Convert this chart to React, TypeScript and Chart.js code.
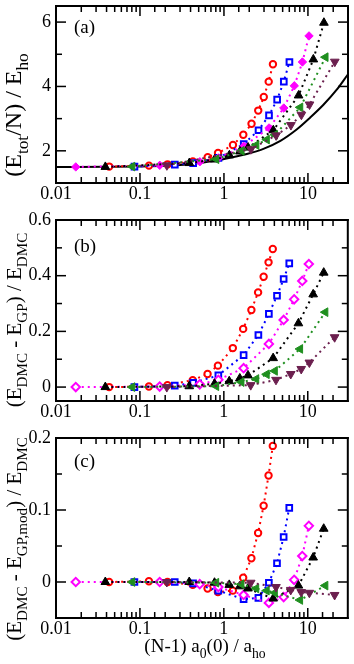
import React, { useEffect, useRef } from 'react';
import { Chart, registerables } from 'chart.js';

Chart.register(...registerables);

// ---------- DATA ----------
// x = (N-1) a0(0) / a_ho for each series
const redX = [0.043, 0.128, 0.213, 0.426, 0.64, 0.85, 1.28, 1.7, 2.13, 2.56, 2.98, 3.41, 3.83];
const blueX = [0.086, 0.26, 0.43, 0.86, 1.72, 2.58, 3.44, 4.3, 5.16, 6.02];
const magentaX = [0.0172, 0.172, 0.516, 0.86, 1.72, 3.44, 5.16, 6.88, 8.6, 10.3];
const blackX = [0.0387, 0.387, 0.774, 1.16, 1.55, 1.94, 3.87, 7.74, 11.6, 15.5];
const greenX = [0.081, 0.81, 1.62, 2.43, 3.24, 4.05, 8.1, 16.2];
const maroonX = [0.209, 2.09, 4.18, 6.27, 8.36, 10.45, 20.9];

// panel (a): (E_tot/N) / E_ho
const redA = [1.51, 1.54, 1.58, 1.67, 1.8, 1.93, 2.18, 2.5, 2.84, 3.25, 3.67, 4.15, 4.69];
const blueA = [1.51, 1.57, 1.62, 1.78, 2.21, 2.64, 3.1, 3.59, 4.15, 4.76];
const magentaA = [1.5, 1.55, 1.66, 1.78, 2.14, 2.71, 3.33, 4.02, 4.76, 5.57];
const blackA = [1.5, 1.62, 1.73, 1.86, 1.98, 2.1, 2.64, 3.72, 4.84, 5.98];
const greenA = [1.51, 1.74, 2.0, 2.18, 2.35, 2.5, 3.35, 4.91];
const maroonA = [1.55, 2.05, 2.48, 2.8, 3.12, 3.44, 4.77];
const curveX = [0.01, 0.1, 0.3, 0.5, 0.78, 1.22, 1.92, 3.0, 4.7, 7.4, 10.6, 15.3, 21.9, 30];
const curveA = [1.5, 1.51, 1.56, 1.62, 1.69, 1.79, 1.91, 2.07, 2.31, 2.67, 3.03, 3.43, 3.89, 4.38];

// panel (b): (E_DMC - E_GP) / E_DMC
const redB = [0, 0.002, 0.007, 0.025, 0.047, 0.077, 0.14, 0.209, 0.277, 0.34, 0.396, 0.448, 0.496];
const blueB = [0, 0.005, 0.015, 0.042, 0.115, 0.187, 0.263, 0.328, 0.388, 0.444];
const magentaB = [0, 0.002, 0.01, 0.026, 0.068, 0.155, 0.241, 0.315, 0.381, 0.442];
const blackB = [0, 0.003, 0.012, 0.021, 0.031, 0.042, 0.104, 0.229, 0.333, 0.411];
const greenB = [0, 0.003, 0.018, 0.029, 0.046, 0.058, 0.137, 0.269];
const maroonB = [0, 0.007, 0.026, 0.047, 0.065, 0.088, 0.179];

// panel (c): (E_DMC - E_GP,mod) / E_DMC
const redC = [0, 0.001, 0, -0.004, -0.009, -0.014, -0.012, 0.006, 0.033, 0.068, 0.106, 0.148, 0.189];
const blueC = [0, 0, -0.002, -0.012, -0.024, -0.022, -0.001, 0.026, 0.0625, 0.103];
const magentaC = [0, 0, -0.003, -0.007, -0.018, -0.029, -0.021, 0.003, 0.036, 0.078];
const blackC = [0, 0, -0.001, -0.004, -0.006, -0.009, -0.023, -0.005, 0.034, 0.074];
const greenC = [0, -0.001, -0.003, -0.009, -0.012, -0.015, -0.025, -0.005];
const maroonC = [0, -0.001, -0.007, -0.011, -0.014, -0.015, -0.018];

// ticks
const xTickValues = [0.01, 0.1, 1, 10];
const xTickLabels = ['0.01', '0.1', '1', '10'];
const yTickPosA = [1, 2, 3, 4, 5, 6];
const yTicksA = [2, 4, 6];
const yLabelsA = ['2', '4', '6'];
const yTickPosB = [0, 0.1, 0.2, 0.3, 0.4, 0.5, 0.6];
const yTicksB = [0, 0.2, 0.4, 0.6];
const yLabelsB = ['0', '0.2', '0.4', '0.6'];
const yTickPosC = [-0.05, 0, 0.05, 0.1, 0.15, 0.2];
const yTicksC = [0, 0.1, 0.2];
const yLabelsC = ['0', '0.1', '0.2'];

// ---------- STYLE ----------
const FONT = '"Liberation Serif", "Times New Roman", serif';
Chart.defaults.font.family = FONT;
Chart.defaults.color = '#000';

type Seg = { t: string; sub?: boolean };
const titleA: Seg[] = [{ t: '(E' }, { t: 'tot', sub: true }, { t: '/N) / E' }, { t: 'ho', sub: true }];
const titleB: Seg[] = [{ t: '(E' }, { t: 'DMC', sub: true }, { t: ' - E' }, { t: 'GP', sub: true }, { t: ') / E' }, { t: 'DMC', sub: true }];
const titleC: Seg[] = [{ t: '(E' }, { t: 'DMC', sub: true }, { t: ' - E' }, { t: 'GP,mod', sub: true }, { t: ') / E' }, { t: 'DMC', sub: true }];
const xTitle: Seg[] = [{ t: '(N-1) a' }, { t: '0', sub: true }, { t: '(0) / a' }, { t: 'ho', sub: true }];

const seriesStyle = [
  { color: '#ff0000', style: 'circle', radius: 3.2, open: true, rot: 0 },
  { color: '#0000ff', style: 'rect', radius: 4, open: true, rot: 0 },
  { color: '#ff00ff', style: 'rectRot', radius: 4.2, open: true, rot: 0 },
  { color: '#000000', style: 'triangle', radius: 5, open: false, rot: 0 },
  { color: '#1f8f1f', style: 'triangle', radius: 5, open: false, rot: -90 },
  { color: '#6b1f4e', style: 'triangle', radius: 5, open: false, rot: 180 },
];
const seriesX = [redX, blueX, magentaX, blackX, greenX, maroonX];

function drawRich(ctx: any, segs: Seg[], x: number, y: number, size: number, rotate: boolean) {
  ctx.save();
  ctx.translate(x, y);
  if (rotate) ctx.rotate(-Math.PI / 2);
  const sub = size * 0.72;
  const f = (s: number) => s + 'px ' + FONT;
  let total = 0;
  const widths = segs.map((s) => {
    ctx.font = f(s.sub ? sub : size);
    const w = ctx.measureText(s.t).width;
    total += w;
    return w;
  });
  let cx = -total / 2;
  ctx.fillStyle = '#000';
  ctx.textAlign = 'left';
  ctx.textBaseline = 'alphabetic';
  segs.forEach((s, i) => {
    ctx.font = f(s.sub ? sub : size);
    ctx.fillText(s.t, cx, s.sub ? size * 0.3 : 0);
    cx += widths[i];
  });
  ctx.restore();
}

interface PanelCfg {
  top: number;
  height: number;
  areaTop: number;
  areaBottom: number;
  yMin: number;
  yMax: number;
  yTickPos: number[];
  yTicks: number[];
  yLabels: string[];
  ys: number[][];
  filledMagenta: boolean;
  curve: boolean;
  title: Seg[];
  titleY: number;
  titleSize: number;
  tag: string;
  tagY: number;
  showXTitle: boolean;
}

const panels: PanelCfg[] = [
  {
    top: 0, height: 206, areaTop: 3, areaBottom: 183,
    yMin: 1, yMax: 6.5, yTickPos: yTickPosA, yTicks: yTicksA, yLabels: yLabelsA,
    ys: [redA, blueA, magentaA, blackA, greenA, maroonA], filledMagenta: true, curve: true,
    title: titleA, titleY: 115, titleSize: 24, tag: '(a)', tagY: 28, showXTitle: false,
  },
  {
    top: 206, height: 222, areaTop: 14, areaBottom: 195,
    yMin: -0.05, yMax: 0.6, yTickPos: yTickPosB, yTicks: yTicksB, yLabels: yLabelsB,
    ys: [redB, blueB, magentaB, blackB, greenB, maroonB], filledMagenta: false, curve: false,
    title: titleB, titleY: 114, titleSize: 21, tag: '(b)', tagY: 41.5, showXTitle: false,
  },
  {
    top: 428, height: 236, areaTop: 10, areaBottom: 190,
    yMin: -0.05, yMax: 0.2, yTickPos: yTickPosC, yTicks: yTicksC, yLabels: yLabelsC,
    ys: [redC, blueC, magentaC, blackC, greenC, maroonC], filledMagenta: false, curve: false,
    title: titleC, titleY: 111, titleSize: 21, tag: '(c)', tagY: 34, showXTitle: true,
  },
];

const near = (a: number, b: number) => Math.abs(a - b) < 1e-6;

function Panel({ cfg }: { cfg: PanelCfg }) {
  const ref = useRef<HTMLCanvasElement>(null);
  useEffect(() => {
    const datasets: any[] = [];
    if (cfg.curve) {
      datasets.push({
        data: curveX.map((x, i) => ({ x, y: curveA[i] })),
        borderColor: '#000', borderWidth: 2, pointRadius: 0,
        cubicInterpolationMode: 'monotone', fill: false, order: 10,
      });
    }
    cfg.ys.forEach((ys, k) => {
      const s = seriesStyle[k];
      const open = s.open && !(k === 2 && cfg.filledMagenta);
      datasets.push({
        data: seriesX[k].map((x, i) => ({ x, y: ys[i] })),
        borderColor: s.color,
        backgroundColor: s.color,
        borderWidth: 2,
        borderDash: [2, 4],
        pointStyle: s.style,
        pointRadius: s.radius,
        pointRotation: s.rot,
        pointBorderWidth: open ? 2 : 1,
        pointBorderColor: s.color,
        pointBackgroundColor: open ? '#ffffff' : s.color,
        fill: false,
        tension: 0,
        order: 6 - k,
      });
    });

    const plugin = {
      id: 'axesframe',
      afterDraw(chart: any) {
        const ctx = chart.ctx;
        const a = chart.chartArea;
        const xs = chart.scales.x;
        const ysc = chart.scales.y;
        ctx.save();
        ctx.fillStyle = '#000';
        // x ticks (inward, bottom and top)
        xs.ticks.forEach((t: any) => {
          const p = xs.getPixelForValue(t.value);
          if (p < a.left + 1 || p > a.right - 1) return;
          const lg = Math.log10(t.value);
          const L = Math.abs(lg - Math.round(lg)) < 1e-6 ? 10 : 6;
          ctx.fillRect(p - 0.75, a.bottom - L, 1.5, L);
          ctx.fillRect(p - 0.75, a.top, 1.5, L);
        });
        // y ticks (inward, left and right)
        ysc.ticks.forEach((t: any) => {
          const p = ysc.getPixelForValue(t.value);
          if (p < a.top + 1 || p > a.bottom - 1) return;
          const L = cfg.yTicks.some((m) => near(m, t.value)) ? 10 : 6;
          ctx.fillRect(a.left, p - 0.75, L, 1.5);
          ctx.fillRect(a.right - L, p - 0.75, L, 1.5);
        });
        // frame
        ctx.fillRect(a.left - 1, a.top - 1, a.right - a.left + 2, 2);
        ctx.fillRect(a.left - 1, a.bottom - 1, a.right - a.left + 2, 2);
        ctx.fillRect(a.left - 1, a.top - 1, 2, a.bottom - a.top + 2);
        ctx.fillRect(a.right - 1, a.top - 1, 2, a.bottom - a.top + 2);
        // tick labels
        ctx.font = '18px ' + FONT;
        ctx.textBaseline = 'middle';
        ctx.textAlign = 'center';
        xTickValues.forEach((v, i) => {
          ctx.fillText(xTickLabels[i], xs.getPixelForValue(v), a.bottom + 11);
        });
        ctx.textAlign = 'right';
        cfg.yTicks.forEach((v, i) => {
          ctx.fillText(cfg.yLabels[i], a.left - 5, ysc.getPixelForValue(v));
        });
        // panel tag
        ctx.font = '19px ' + FONT;
        ctx.textAlign = 'left';
        ctx.fillText(cfg.tag, 74, cfg.tagY);
        ctx.restore();
        drawRich(ctx, cfg.title, 21, cfg.titleY, cfg.titleSize, true);
        if (cfg.showXTitle) drawRich(ctx, xTitle, 205, 224, 19, false);
      },
    };

    const chart = new Chart(ref.current as HTMLCanvasElement, {
      type: 'line',
      data: { datasets },
      options: {
        responsive: false,
        animation: false,
        events: [],
        layout: { padding: { top: cfg.areaTop, left: 0, right: -1, bottom: 0 } },
        plugins: { legend: { display: false }, tooltip: { enabled: false } },
        scales: {
          x: {
            type: 'logarithmic',
            min: 0.01,
            max: 30,
            grid: { display: false, drawTicks: false },
            border: { display: false },
            ticks: { display: false, autoSkip: false },
            afterFit: (s: any) => {
              s.height = cfg.height - cfg.areaBottom;
              s.paddingLeft = 0;
              s.paddingRight = 0;
            },
          },
          y: {
            type: 'linear',
            min: cfg.yMin,
            max: cfg.yMax,
            grid: { display: false, drawTicks: false },
            border: { display: false },
            ticks: { display: false },
            afterBuildTicks: (s: any) => {
              s.ticks = cfg.yTickPos.map((v) => ({ value: v }));
            },
            afterFit: (s: any) => {
              s.width = 56;
              s.paddingTop = 0;
              s.paddingBottom = 0;
            },
          },
        },
      } as any,
      plugins: [plugin],
    });
    return () => chart.destroy();
  }, []);
  return (
    <canvas
      ref={ref}
      width={354}
      height={cfg.height}
      style={{ position: 'absolute', left: 0, top: cfg.top, width: 354, height: cfg.height }}
    />
  );
}

export default function App() {
  return (
    <div style={{ position: 'absolute', left: 0, top: 0, width: 354, height: 664, background: '#fff' }}>
      {panels.map((p) => (
        <Panel key={p.tag} cfg={p} />
      ))}
    </div>
  );
}
